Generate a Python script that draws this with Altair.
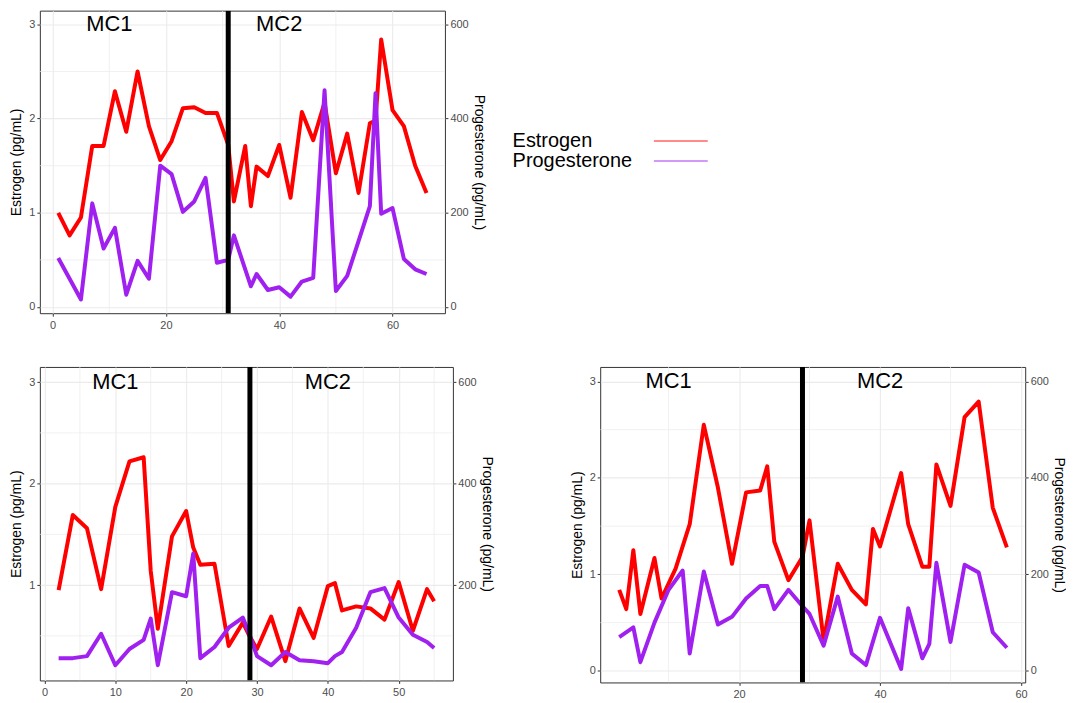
import altair as alt
import pandas as pd

hormones = ["Estrogen", "Progesterone"]
hormone_colors = ["#FF0000", "#A020F0"]
cycle_labels = ["MC1", "MC2"]
label_days = [10, 40]

# Panel 1 (top)
p1_est_day = [1, 3, 5, 7, 9, 11, 13, 15, 17, 19, 21, 23, 25, 27, 29, 31, 32, 34, 35, 36, 38, 40,
              42, 44, 46, 48, 50, 52, 54, 56, 57, 58, 60, 62, 64, 66]
p1_est = [1.00, 0.76, 0.95, 1.71, 1.71, 2.29, 1.86, 2.50, 1.92, 1.56, 1.76, 2.11, 2.12, 2.06, 2.06,
          1.72, 1.12, 1.71, 1.07, 1.49, 1.39, 1.72, 1.16, 2.07, 1.77, 2.17, 1.42, 1.84, 1.21, 1.95,
          1.98, 2.84, 2.09, 1.92, 1.50, 1.21]
p1_prog_day = [1, 3, 5, 7, 9, 11, 13, 15, 17, 19, 21, 23, 25, 27, 29, 31, 32, 34, 35, 36, 38, 40,
               42, 44, 46, 48, 50, 52, 54, 56, 57, 58, 60, 62, 64, 66]
p1_prog = [104, 60, 16, 220, 124, 168, 26, 98, 60, 300, 282, 202, 224, 274, 94, 100, 152, 80, 44,
           70, 36, 42, 22, 54, 62, 460, 34, 66, 140, 214, 454, 198, 210, 102, 80, 70]
p1_split = 31

# Panel 2 (bottom left)
p2_est_day = [2, 4, 6, 8, 10, 12, 14, 15, 16, 18, 20, 21, 22, 24, 26, 28, 29, 30, 32, 34, 36, 38,
              40, 41, 42, 44, 46, 48, 50, 52, 54, 55]
p2_est = [0.95, 1.69, 1.56, 0.96, 1.77, 2.22, 2.26, 1.14, 0.57, 1.48, 1.73, 1.37, 1.20, 1.21, 0.40,
          0.63, 0.49, 0.37, 0.69, 0.25, 0.77, 0.48, 0.99, 1.02, 0.75, 0.79, 0.77, 0.66, 1.03, 0.55,
          0.96, 0.84]
p2_prog_day = p2_est_day
p2_prog = [56, 56, 60, 104, 42, 74, 92, 134, 42, 186, 178, 262, 56, 78, 116, 136, 100, 60, 42, 68,
           52, 50, 46, 60, 68, 116, 186, 194, 136, 102, 88, 76]
p2_split = 29

# Panel 3 (bottom right)
p3_est_day = [3, 4, 5, 6, 8, 9, 11, 13, 15, 17, 19, 21, 23, 24, 25, 27, 29, 30, 32, 34, 36, 38, 39,
              40, 43, 44, 46, 47, 48, 50, 52, 54, 56, 58]
p3_est = [0.84, 0.64, 1.25, 0.59, 1.17, 0.75, 1.06, 1.52, 2.55, 1.90, 1.11, 1.85, 1.87, 2.12, 1.34,
          0.94, 1.18, 1.56, 0.31, 1.11, 0.84, 0.69, 1.47, 1.29, 2.05, 1.52, 1.08, 1.08, 2.14, 1.71,
          2.63, 2.79, 1.69, 1.28]
p3_prog_day = [3, 5, 6, 8, 10, 12, 13, 15, 17, 19, 21, 23, 24, 25, 27, 29, 30, 32, 34, 36, 38, 40,
               43, 44, 46, 47, 48, 50, 52, 54, 56, 58]
p3_prog = [70, 90, 18, 100, 168, 208, 36, 206, 96, 112, 150, 176, 176, 128, 168, 134, 118, 52, 154,
           36, 12, 110, 4, 130, 26, 56, 224, 60, 220, 204, 80, 48]
p3_split = 29

FONT = "Liberation Sans"


def panel(est_day, est, prog_day, prog, split, xdom, ydom, xticks, xminor, yticks, yminor,
          rticks, w, h, legend):
    est_df = pd.DataFrame({"day": est_day, "level": est, "hormone": "Estrogen"})
    prog_df = pd.DataFrame({"day": prog_day, "level": prog, "hormone": "Progesterone"})
    xscale = alt.Scale(domain=xdom, nice=False, zero=False)
    yscale = alt.Scale(domain=ydom, nice=False, zero=False)
    rscale = alt.Scale(domain=[ydom[0] * 200, ydom[1] * 200], nice=False, zero=False)
    xaxis = alt.Axis(values=xticks, title=None, grid=True, labelPadding=3)
    yaxis = alt.Axis(values=yticks, title="Estrogen (pg/mL)", grid=True, titlePadding=5)
    raxis = alt.Axis(values=rticks, title="Progesterone (pg/mL)", orient="right", grid=False,
                     titlePadding=3)
    color = alt.Color("hormone:N", scale=alt.Scale(domain=hormones, range=hormone_colors),
                      legend=legend)

    vgrid = alt.Chart(pd.DataFrame({"day": xminor})).mark_rule(
        color="#EBEBEB", strokeWidth=0.7, clip=True).encode(
        x=alt.X("day:Q", scale=xscale, axis=xaxis))
    hgrid = alt.Chart(pd.DataFrame({"level": yminor})).mark_rule(
        color="#EBEBEB", strokeWidth=0.7, clip=True).encode(
        y=alt.Y("level:Q", scale=yscale, axis=yaxis))
    red = alt.Chart(est_df).mark_line(strokeWidth=4, strokeJoin="round").encode(
        x=alt.X("day:Q", scale=xscale, axis=xaxis),
        y=alt.Y("level:Q", scale=yscale, axis=yaxis),
        color=color,
    )
    base = alt.layer(vgrid, hgrid, red)
    purple = alt.Chart(prog_df).mark_line(strokeWidth=4, strokeJoin="round").encode(
        x=alt.X("day:Q", scale=xscale, axis=xaxis),
        y=alt.Y("level:Q", scale=rscale, axis=raxis),
        color=color,
    )
    split_rule = alt.Chart(pd.DataFrame({"day": [split]})).mark_rule(
        color="black", strokeWidth=5, clip=True).encode(
        x=alt.X("day:Q", scale=xscale, axis=xaxis))
    text = alt.Chart(pd.DataFrame({"day": label_days, "level": [3, 3], "label": cycle_labels})
                     ).mark_text(fontSize=22, font=FONT, color="black", align="center",
                                 baseline="middle").encode(
        x=alt.X("day:Q", scale=xscale, axis=xaxis),
        y=alt.Y("level:Q", scale=yscale, axis=None),
        text="label:N",
    )
    overlay = alt.layer(split_rule, text)
    return alt.layer(base, purple, overlay).resolve_scale(y="independent").properties(
        width=w, height=h)


legend1 = alt.Legend(title=None, orient="none", legendX=634, legendY=121, symbolType="M-5,0H5",
                     symbolSize=117, symbolStrokeWidth=2, symbolOpacity=0.45, labelFontSize=20,
                     labelFont=FONT, labelColor="#000000", labelOffset=alt.ExprRef("-179"),
                     labelAlign="left", rowPadding=0, labelLimit=300)

c1 = panel(p1_est_day, p1_est, p1_prog_day, p1_prog, p1_split, [-2.25, 69.25], [-0.066, 3.146],
           [0, 20, 40, 60], [10, 30, 50], [0, 1, 2, 3], [0.5, 1.5, 2.5], [0, 200, 400, 600],
           407, 304, legend1)
c2 = panel(p2_est_day, p2_est, p2_prog_day, p2_prog, p2_split, [-0.65, 57.65], [0.06, 3.15],
           [0, 10, 20, 30, 40, 50], [5, 15, 25, 35, 45, 55], [1, 2, 3], [0.5, 1.5, 2.5],
           [200, 400, 600], 415, 315, None)
c3 = panel(p3_est_day, p3_est, p3_prog_day, p3_prog, p3_split, [0.3, 60.6], [-0.12, 3.15],
           [20, 40, 60], [10, 30, 50], [0, 1, 2, 3], [0.5, 1.5, 2.5], [0, 200, 400, 600],
           427, 317, None)

bottom = alt.hconcat(c2, c3, spacing=76).resolve_scale(color="independent")
chart = alt.vconcat(c1, bottom, spacing=35).resolve_scale(color="independent").properties(
    padding={"left": 1, "top": 0, "right": 0, "bottom": 0}
).configure(font=FONT).configure_view(stroke="#333333", strokeWidth=1).configure_axis(
    domain=False, tickColor="#333333", tickSize=3, tickWidth=1, labelColor="#4D4D4D",
    labelFontSize=11, labelFont=FONT, titleFont=FONT, titleFontSize=14, titleFontWeight="normal",
    titleColor="#000000", gridColor="#EBEBEB", gridWidth=1.1,
)

chart.save("out.html", embed_options={"renderer": "svg", "actions": False})
